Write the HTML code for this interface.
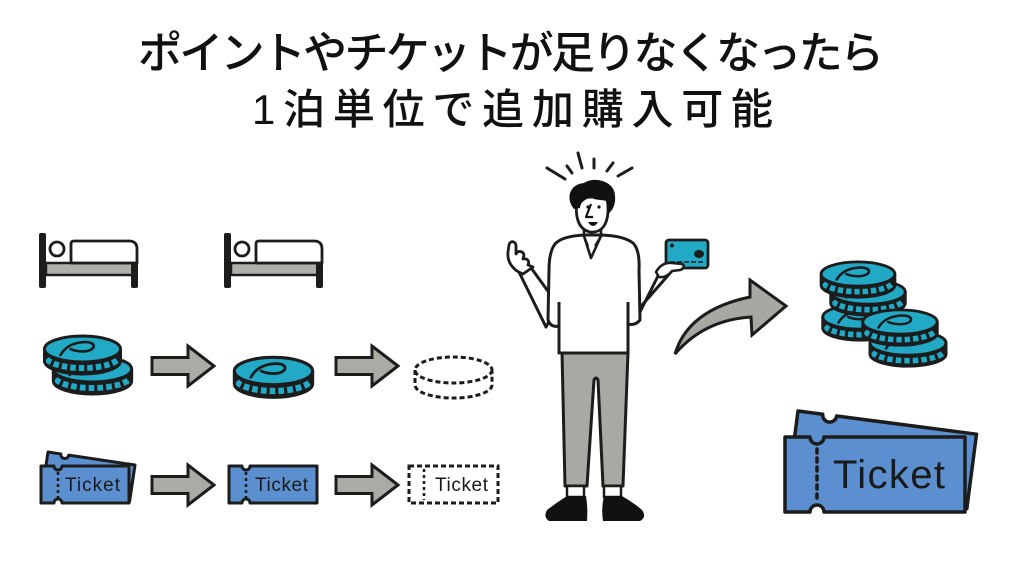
<!DOCTYPE html>
<html lang="ja">
<head>
<meta charset="utf-8">
<style>
  html,body{margin:0;padding:0;background:#fff;}
  body{width:1024px;height:576px;overflow:hidden;}
  svg{display:block;}
  .ttl{font-family:"Liberation Sans","Noto Sans CJK JP",sans-serif;font-weight:500;fill:#111;}
  .tk{font-family:"Liberation Sans",sans-serif;fill:#1a1a1a;}
</style>
</head>
<body>
<svg width="1024" height="576" viewBox="0 0 1024 576" xmlns="http://www.w3.org/2000/svg">
  <defs>
    <g id="coin">
      <path d="M-38,0 V12 A38,13 0 0 0 38,12 V0 Z" fill="#1c1c1c"/>
      <path d="M-36,10.2 A38,13 0 0 0 36,10.2" fill="none" stroke="#22a9c6" stroke-width="6" stroke-dasharray="5.5 3"/>
      <path d="M-38,0 V12 A38,13 0 0 0 38,12 V0" fill="none" stroke="#1c1c1c" stroke-width="3" stroke-linejoin="round"/>
      <ellipse cx="0" cy="0" rx="38" ry="13" fill="#22a9c6" stroke="#1c1c1c" stroke-width="3"/>
      <path d="M-22,6 C-17,-3 -8,-7 4,-7 C14,-6 13,0 5,2 C-1,3 -8,2 -12,0" fill="none" stroke="#1c1c1c" stroke-width="2.6" stroke-linecap="round"/>
    </g>
    <path id="tkS" d="M0,0 H13 A4,4 0 0 0 21,0 H88 V37 H21 A4,4 0 0 0 13,37 H0 Z"/>
    <path id="tkB" d="M0,0 H25 A7,7 0 0 0 39,0 H180 V75 H39 A7,7 0 0 0 25,75 H0 Z"/>
    <path id="arr" d="M0,-8.5 H36 V-20 L62,0 L36,20 V8.5 H0 Z" fill="#ababa6" stroke="#1c1c1c" stroke-width="3" stroke-linejoin="miter"/>
  </defs>

  <!-- Title -->
  <text class="ttl" x="138" y="68" font-size="44" textLength="746" lengthAdjust="spacing">ポイントやチケットが足りなくなったら</text>
  <text class="ttl" x="252" y="124" font-size="42" textLength="521" lengthAdjust="spacing">1泊単位で追加購入可能</text>

  <!-- Beds -->
  <g id="bed" transform="translate(39,233)">
    <rect x="7" y="30" width="87" height="12" fill="#b0b0ab" stroke="#1c1c1c" stroke-width="2.5"/>
    <path d="M32,30 V11 Q32,8 35,8 H90 Q98,8 98,16 V30 Z" fill="#fff" stroke="#1c1c1c" stroke-width="2.8" stroke-linejoin="round"/>
    <circle cx="18" cy="16" r="7" fill="#fff" stroke="#1c1c1c" stroke-width="2.8"/>
    <rect x="0" y="0" width="7" height="55" rx="2" fill="#1c1c1c"/>
    <rect x="92" y="30" width="7" height="25" rx="2" fill="#1c1c1c"/>
  </g>
  <use href="#bed" transform="translate(185,0)"/>

  <!-- Coins row -->
  <use href="#coin" transform="translate(92.5,369) scale(1.03,1)"/>
  <use href="#coin" transform="translate(82.5,349)"/>
  <use href="#arr" transform="translate(152,366)"/>
  <use href="#coin" transform="translate(273.5,371) scale(1.03,1.05)"/>
  <use href="#arr" transform="translate(336,366)"/>
  <g fill="none" stroke="#1c1c1c" stroke-width="3" stroke-dasharray="5 3">
    <ellipse cx="453.5" cy="370" rx="38.5" ry="13"/>
    <path d="M415,370 V385 A38.5,13 0 0 0 492,385 V370"/>
  </g>

  <!-- Tickets row -->
  <g transform="translate(48,452) rotate(8.5)">
    <use href="#tkS" fill="#5b8fcf" stroke="#1c1c1c" stroke-width="3" stroke-linejoin="round"/>
  </g>
  <g transform="translate(41,466)">
    <use href="#tkS" fill="#5b8fcf" stroke="#1c1c1c" stroke-width="3" stroke-linejoin="round"/>
    <line x1="17" y1="6" x2="17" y2="32" stroke="#1c1c1c" stroke-width="2.5" stroke-dasharray="3 3"/>
    <text class="tk" x="24" y="25" font-size="19" textLength="55" lengthAdjust="spacing">Ticket</text>
  </g>
  <use href="#arr" transform="translate(152,485)"/>
  <g transform="translate(229,466)">
    <use href="#tkS" fill="#5b8fcf" stroke="#1c1c1c" stroke-width="3" stroke-linejoin="round"/>
    <line x1="17" y1="6" x2="17" y2="32" stroke="#1c1c1c" stroke-width="2.5" stroke-dasharray="3 3"/>
    <text class="tk" x="26" y="25" font-size="19" textLength="53" lengthAdjust="spacing">Ticket</text>
  </g>
  <use href="#arr" transform="translate(336,485)"/>
  <g transform="translate(409,466)">
    <rect x="0" y="0" width="89" height="37" fill="none" stroke="#1c1c1c" stroke-width="3" stroke-dasharray="5 3"/>
    <line x1="15" y1="3" x2="15" y2="34" stroke="#1c1c1c" stroke-width="2.5" stroke-dasharray="3 3"/>
    <text class="tk" x="26" y="25" font-size="19" textLength="53" lengthAdjust="spacing">Ticket</text>
  </g>

  <!-- Person: rays -->
  <g stroke="#1c1c1c" stroke-width="3" stroke-linecap="round">
    <line x1="547" y1="168" x2="565" y2="179"/>
    <line x1="567" y1="166" x2="572" y2="173"/>
    <line x1="578" y1="153" x2="582" y2="168"/>
    <line x1="594" y1="159" x2="594" y2="168"/>
    <line x1="613" y1="163" x2="607" y2="171"/>
    <line x1="632" y1="168" x2="618" y2="176"/>
  </g>

  <!-- Pants -->
  <path d="M562,352 L628,352 L623,486 L603,486 L598,380 Q596,376 594,380 L587,486 L565,486 Z" fill="#a8a9a2" stroke="#1c1c1c" stroke-width="3" stroke-linejoin="round"/>
  <!-- socks -->
  <rect x="567" y="486" width="17" height="11" fill="#fff" stroke="#1c1c1c" stroke-width="2.5"/>
  <rect x="604" y="486" width="17" height="11" fill="#fff" stroke="#1c1c1c" stroke-width="2.5"/>
  <!-- shoes -->
  <path d="M567,496 L586,496 Q588,508 587,521 L549,521 Q543,517 547,510 Q556,503 567,496 Z" fill="#111"/>
  <path d="M604,496 L622,496 Q634,503 642,510 Q647,517 640,521 L603,521 Q601,508 604,496 Z" fill="#111"/>

  <!-- Forearms -->
  <path d="M546,327 L519,272 L529,265 L558,305 Z" fill="#fff" stroke="#1c1c1c" stroke-width="3" stroke-linejoin="round"/>
  <path d="M634,324 L662,268 L671,272 L643,304 Z" fill="#fff" stroke="#1c1c1c" stroke-width="3" stroke-linejoin="round"/>

  <!-- Shirt -->
  <path d="M585,235 Q562,236 555,244 Q549,252 549,270 L548,320 Q551,328 559,326 L559,353 L628,353 L628,324 Q635,326 640,320 L639,270 Q640,250 633,243 Q624,236 602,235 Z" fill="#fff" stroke="#1c1c1c" stroke-width="3" stroke-linejoin="round"/>
  <line x1="559" y1="302" x2="559" y2="330" stroke="#1c1c1c" stroke-width="3"/>
  <line x1="628" y1="302" x2="628" y2="330" stroke="#1c1c1c" stroke-width="3"/>
  <!-- collar -->
  <path d="M584,236 L591,258 L601,236" fill="none" stroke="#1c1c1c" stroke-width="2.6" stroke-linejoin="round"/>
  <path d="M584,236 L588,246 M601,236 L595,246" fill="none" stroke="#1c1c1c" stroke-width="2.2"/>

  <!-- Left hand -->
  <path d="M523,274 C512,270 507,261 508,252 L509,245 C510,240 516,241 516,246 L516,254 C518,250 523,251 524,255 L523,259 C527,258 530,261 528,265 L533,267 Z" fill="#fff" stroke="#1c1c1c" stroke-width="2.8" stroke-linejoin="round"/>

  <!-- Card -->
  <rect x="666" y="240" width="42" height="28" rx="3" fill="#22a9c6" stroke="#1c1c1c" stroke-width="2.8"/>
  <circle cx="672" cy="245.5" r="2" fill="#1c1c1c"/>
  <ellipse cx="699" cy="254" rx="5" ry="4" fill="#1c1c1c"/>
  <line x1="670" y1="262" x2="705" y2="262" stroke="#1c1c1c" stroke-width="1.5" stroke-dasharray="5 2"/>
  <!-- Right hand over card -->
  <path d="M656,272 C660,265 666,262 672,263 L682,264 C685,265 684,269 680,270 L672,271 C669,275 664,278 659,277 Z" fill="#fff" stroke="#1c1c1c" stroke-width="2.6" stroke-linejoin="round"/>

  <!-- Neck -->
  <path d="M584,226 L584,237 M601,226 L601,237" stroke="#1c1c1c" stroke-width="2.6"/>
  <!-- Face -->
  <path d="M577,198 C575,214 577,229 590,232 C601,233 607,226 608,212 L608,196 Z" fill="#fff" stroke="#1c1c1c" stroke-width="2.8" stroke-linejoin="round"/>
  <!-- Hair -->
  <path d="M574,209 C565,198 570,184 584,183 C594,176 615,181 615,196 C616,205 612,211 608,214 L606,201 C600,199 594,201 590,196 C586,201 581,200 580,208 Z" fill="#111"/>
  <!-- Face features -->
  <circle cx="588" cy="207" r="1.6" fill="#111"/>
  <circle cx="599" cy="207" r="1.6" fill="#111"/>
  <path d="M591,204 L586,217 L593,217" fill="none" stroke="#111" stroke-width="2.2" stroke-linejoin="round"/>
  <path d="M588,222 Q593,230 598,222 Z" fill="#111"/>

  <!-- Curved arrow -->
  <path d="M675,354 Q688,310 750,297 L750,280 L786,306 L752,335 L751,317 Q704,320 675,354 Z" fill="#a8a8a3" stroke="#1c1c1c" stroke-width="3" stroke-linejoin="miter"/>

  <!-- Right coins: back stack -->
  <use href="#coin" transform="translate(860,317) scale(0.98,0.93)"/>
  <use href="#coin" transform="translate(868,292) scale(0.98,0.93)"/>
  <use href="#coin" transform="translate(858,274) scale(0.97,0.93)"/>
  <!-- front stack -->
  <use href="#coin" transform="translate(908,343) scale(1.0,0.93)"/>
  <use href="#coin" transform="translate(900,322) scale(0.98,0.93)"/>

  <!-- Big ticket -->
  <g transform="translate(798,411) rotate(7.4)">
    <use href="#tkB" fill="#5b8fcf" stroke="#1c1c1c" stroke-width="3.5" stroke-linejoin="round"/>
  </g>
  <g transform="translate(785,437)">
    <use href="#tkB" fill="#5b8fcf" stroke="#1c1c1c" stroke-width="3.5" stroke-linejoin="round"/>
    <line x1="32" y1="12" x2="32" y2="64" stroke="#1c1c1c" stroke-width="3.5" stroke-dasharray="4 5" stroke-linecap="round"/>
    <text class="tk" x="48" y="51" font-size="40" textLength="112" lengthAdjust="spacing">Ticket</text>
  </g>
</svg>
</body>
</html>
